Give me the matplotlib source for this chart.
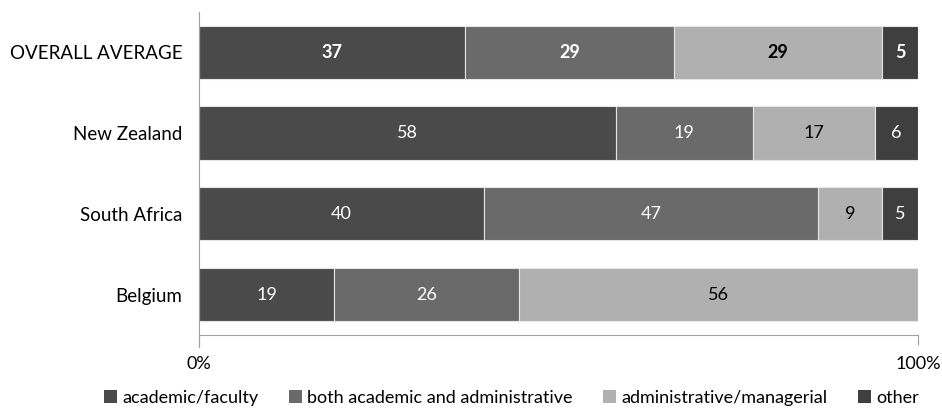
import matplotlib
matplotlib.use("Agg")
import matplotlib.pyplot as plt
import numpy as np

plt.rcParams['font.family'] = ['Lato', 'DejaVu Sans']

categories = ["OVERALL AVERAGE", "New Zealand", "South Africa", "Belgium"]
series_names = ["academic/faculty", "both academic and administrative",
                "administrative/managerial", "other"]
academic = [37, 58, 40, 19]
both = [29, 19, 47, 26]
administrative = [29, 17, 9, 56]
other = [5, 6, 5, 0]
colors = ["#4a4a4a", "#6a6a6a", "#b0b0b0", "#3f3f3f"]
label_colors = ["white", "white", "black", "white"]

data = np.array([academic, both, administrative, other], dtype=float)
totals = data.sum(axis=0)
pct = data / totals * 100

fig = plt.figure(figsize=(9.42, 4.08), dpi=100)
ax = fig.add_axes([0.2113, 0.179, 0.9745 - 0.2113, 0.9706 - 0.179])

ypos = np.arange(len(categories))[::-1]
left = np.zeros(len(categories))
for i, name in enumerate(series_names):
    ax.barh(ypos, pct[i], left=left, height=0.66, color=colors[i],
            edgecolor="#e6e6e6", linewidth=0.8, label=name)
    for j in range(len(categories)):
        v = data[i, j]
        if v > 0:
            ax.text(left[j] + pct[i, j] / 2, ypos[j], f"{int(v)}",
                    ha="center", va="center", color=label_colors[i],
                    fontsize=13, fontweight="bold" if j == 0 else "normal")
    left += pct[i]

ax.set_xlim(0, 100)
ax.set_ylim(-0.5, 3.5)
ax.set_yticks(ypos)
ax.set_yticklabels(categories, fontsize=13.5)
ax.tick_params(axis="y", length=0, pad=12)
ax.set_xticks([0, 100])
ax.set_xticklabels(["0%", "100%"], fontsize=13)
ax.tick_params(axis="x", length=7, color="#a0a0a0", pad=8)
for s in ["top", "right"]:
    ax.spines[s].set_visible(False)
ax.spines["left"].set_color("#a0a0a0")
ax.spines["bottom"].set_color("#a0a0a0")
ax.spines["left"].set_bounds(-0.65, 3.5)

handles, labels = ax.get_legend_handles_labels()
leg = fig.legend(handles, labels, loc="center", bbox_to_anchor=(0.543, 0.025),
                 ncol=4, frameon=False, fontsize=13, handlelength=0.7,
                 handleheight=0.7, handletextpad=0.3, columnspacing=1.7)
for h in leg.legend_handles:
    h.set_edgecolor("none")

fig.savefig("out.png", dpi=100)
